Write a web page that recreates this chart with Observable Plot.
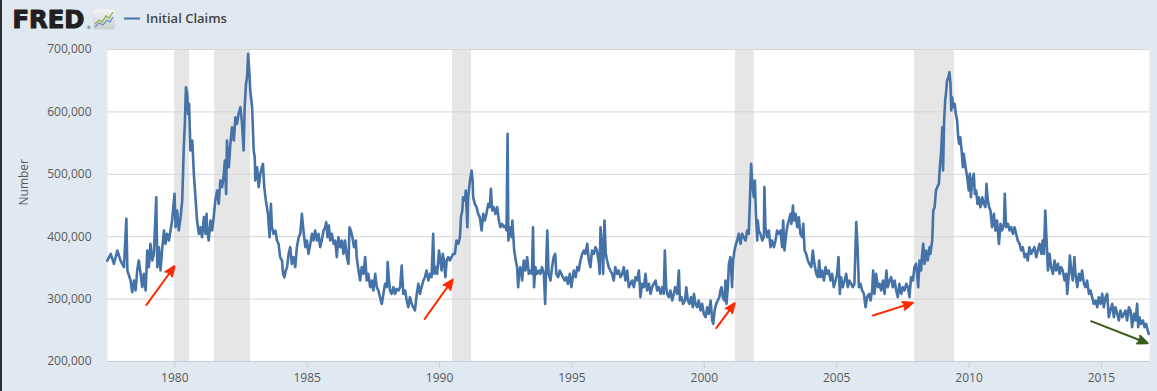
<!DOCTYPE html>
<html>
<head>
<meta charset="utf-8">
<script src="https://cdn.jsdelivr.net/npm/d3@7"></script>
<script src="https://cdn.jsdelivr.net/npm/@observablehq/plot@0.6"></script>
<style>
  html, body { margin: 0; padding: 0; background: #e1e9f0; }
  #wrap { position: relative; width: 1157px; height: 391px; background: #e1e9f0; overflow: hidden; }
  #chart { position: absolute; left: 0; top: 0; }
  #header { position: absolute; left: 0; top: 0; }
  #edge { position: absolute; left: 0; top: 0; width: 2px; height: 391px; background: #2e2e2e; }
</style>
</head>
<body>
<div id="wrap">
  <div id="chart"></div>
  <svg id="header" width="320" height="44" xmlns="http://www.w3.org/2000/svg">
    <defs>
      <linearGradient id="ig" x1="0" y1="0" x2="0" y2="1">
        <stop offset="0" stop-color="#f1f3f4"/>
        <stop offset="1" stop-color="#c9cfd3"/>
      </linearGradient>
    </defs>
    <text x="12.5" y="27.5" font-family="DejaVu Sans" font-weight="bold" font-size="24" textLength="72" lengthAdjust="spacingAndGlyphs" fill="#231f20" stroke="#231f20" stroke-width="1.1" stroke-linejoin="round">FRED</text>
    <text x="86.5" y="29" font-family="DejaVu Sans" font-size="4.5" fill="#231f20">®</text>
    <rect x="93" y="9.5" width="22" height="20" rx="2" fill="url(#ig)"/>
    <polyline points="95,24 99,20 102,22 106,16 109,18 113,12" fill="none" stroke="#8fb34a" stroke-width="1.3"/>
    <polyline points="95,27 99,23 103,25 107,20 110,22 113,17" fill="none" stroke="#6f93b8" stroke-width="1.3"/>
    <line x1="124" y1="18.5" x2="140" y2="18.5" stroke="#4572a7" stroke-width="2"/>
    <text x="146" y="23" font-family="Open Sans" font-weight="600" font-size="13" fill="#444">Initial Claims</text>
  </svg>
  <div id="edge"></div>
</div>
<script>
// Weekly initial claims (decimal year, thousands)
const claims = [
[1977.45,361.8],[1977.58,372.5],[1977.70,356.5],[1977.83,377.9],[1977.95,361.8],[1978.08,351.2],[1978.17,428.6],[1978.21,345.8],
[1978.33,329.8],[1978.39,311.1],[1978.46,329.8],[1978.52,313.8],[1978.58,345.8],[1978.64,361.8],[1978.71,340.5],[1978.77,319.1],
[1978.83,340.5],[1978.90,313.8],[1978.96,377.9],[1979.02,351.2],[1979.08,388.5],[1979.15,361.8],[1979.21,372.5],[1979.30,463.3],
[1979.34,351.2],[1979.40,383.2],[1979.46,345.8],[1979.52,377.9],[1979.59,409.9],[1979.65,388.5],[1979.71,404.6],[1979.78,393.9],
[1979.84,409.9],[1979.90,425.9],[1979.99,468.7],[1980.03,415.2],[1980.09,442.0],[1980.15,409.9],[1980.22,431.3],[1980.28,458.0],
[1980.34,543.5],[1980.38,580.8],[1980.42,639.6],[1980.47,628.9],[1980.50,596.9],[1980.54,612.9],[1980.59,538.1],[1980.66,554.1],
[1980.72,500.7],[1980.78,463.3],[1980.84,425.9],[1980.91,404.6],[1980.97,415.2],[1981.03,399.2],[1981.10,431.3],[1981.16,404.6],
[1981.20,436.6],[1981.22,415.2],[1981.28,393.9],[1981.35,425.9],[1981.41,409.9],[1981.47,431.3],[1981.53,458.0],[1981.60,474.0],
[1981.66,452.6],[1981.72,490.0],[1981.79,479.4],[1981.85,500.7],[1981.89,522.1],[1981.94,468.7],[1981.97,554.1],[1982.04,511.4],
[1982.10,548.8],[1982.16,575.5],[1982.23,554.1],[1982.29,591.5],[1982.35,580.8],[1982.41,596.9],[1982.48,607.6],[1982.54,580.8],
[1982.60,538.1],[1982.64,607.6],[1982.69,645.0],[1982.73,655.6],[1982.77,693.0],[1982.82,661.0],[1982.85,634.3],[1982.92,607.6],
[1982.98,538.1],[1983.02,527.4],[1983.04,490.0],[1983.11,511.4],[1983.17,479.4],[1983.23,500.7],[1983.29,511.4],[1983.33,516.7],
[1983.38,479.4],[1983.44,458.0],[1983.52,436.6],[1983.58,399.2],[1983.63,452.6],[1983.67,415.2],[1983.73,404.6],[1983.80,409.9],
[1983.86,393.9],[1983.92,388.5],[1983.98,367.2],[1984.05,361.8],[1984.09,340.5],[1984.14,335.1],[1984.19,345.8],[1984.24,351.2],
[1984.30,372.5],[1984.36,383.2],[1984.42,356.5],[1984.49,367.2],[1984.55,351.2],[1984.61,383.2],[1984.68,399.2],[1984.74,404.6],
[1984.80,436.6],[1984.86,409.9],[1984.93,383.2],[1984.99,393.9],[1985.05,372.5],[1985.12,388.5],[1985.18,404.6],[1985.24,393.9],
[1985.30,409.9],[1985.37,393.9],[1985.43,404.6],[1985.49,383.2],[1985.55,393.9],[1985.62,409.9],[1985.68,415.2],[1985.72,423.3],
[1985.77,399.2],[1985.82,417.9],[1985.87,393.9],[1985.93,404.6],[1986.00,388.5],[1986.06,393.9],[1986.12,367.2],[1986.18,399.2],
[1986.25,383.2],[1986.31,393.9],[1986.37,372.5],[1986.43,393.9],[1986.50,367.2],[1986.56,356.5],[1986.60,415.2],[1986.65,409.9],
[1986.71,399.2],[1986.77,383.2],[1986.84,393.9],[1986.87,367.2],[1986.94,345.8],[1987.00,329.8],[1987.06,351.2],[1987.13,340.5],
[1987.19,367.2],[1987.25,329.8],[1987.31,340.5],[1987.38,319.1],[1987.44,329.8],[1987.50,313.8],[1987.57,340.5],[1987.63,319.1],
[1987.69,313.8],[1987.75,303.1],[1987.82,292.4],[1987.88,308.4],[1987.94,324.4],[1988.01,319.1],[1988.04,359.2],[1988.09,329.8],
[1988.13,313.8],[1988.19,308.4],[1988.26,319.1],[1988.32,308.4],[1988.38,316.4],[1988.45,313.8],
[1988.51,319.1],[1988.57,353.8],[1988.63,308.4],[1988.70,313.8],[1988.76,297.7],[1988.82,287.0],[1988.88,303.1],[1988.95,292.4],
[1989.01,287.0],[1989.07,281.7],[1989.14,308.4],[1989.20,324.4],[1989.26,308.4],[1989.32,319.1],[1989.39,329.8],[1989.45,335.1],
[1989.51,345.8],[1989.58,329.8],[1989.64,340.5],[1989.70,335.1],[1989.76,404.6],[1989.80,340.5],[1989.86,351.2],[1989.91,340.5],
[1989.98,377.9],[1990.01,367.2],[1990.08,345.8],[1990.12,372.5],[1990.17,361.8],[1990.22,335.1],[1990.27,361.8],[1990.33,367.2],
[1990.39,361.8],[1990.45,367.2],[1990.52,372.5],[1990.58,372.5],[1990.64,393.9],[1990.71,388.5],[1990.77,399.2],[1990.81,431.3],
[1990.86,442.0],[1990.89,463.3],[1990.96,458.0],[1990.99,474.0],[1991.05,415.2],[1991.08,463.3],[1991.15,490.0],[1991.21,506.1],
[1991.25,490.0],[1991.27,463.3],[1991.33,452.6],[1991.40,447.3],[1991.46,436.6],[1991.52,431.3],[1991.59,409.9],[1991.65,436.6],
[1991.71,425.9],[1991.77,436.6],[1991.84,452.6],[1991.90,447.3],[1991.94,476.7],[1991.99,442.0],[1992.05,447.3],[1992.11,436.6],
[1992.18,447.3],[1992.24,425.9],[1992.30,415.2],[1992.36,420.6],[1992.43,415.2],[1992.49,417.9],[1992.53,409.9],[1992.57,564.8],
[1992.60,393.9],[1992.65,415.2],[1992.72,399.2],[1992.75,425.9],[1992.82,377.9],[1992.88,361.8],[1992.93,351.2],[1992.97,319.1],
[1993.00,340.5],[1993.05,351.2],[1993.12,329.8],[1993.18,361.8],[1993.24,345.8],[1993.31,367.2],[1993.37,340.5],[1993.43,345.8],
[1993.49,340.5],[1993.53,415.2],[1993.57,319.1],[1993.62,351.2],[1993.68,340.5],[1993.75,345.8],[1993.81,340.5],[1993.87,351.2],
[1993.94,340.5],[1993.99,292.4],[1994.04,372.5],[1994.07,409.9],[1994.12,340.5],[1994.19,329.8],[1994.25,351.2],[1994.31,367.2],
[1994.37,372.5],[1994.41,340.5],[1994.48,335.1],[1994.54,345.8],[1994.60,340.5],[1994.66,335.1],[1994.73,329.8],[1994.79,335.1],
[1994.85,324.4],[1994.92,340.5],[1994.98,319.1],[1995.07,345.8],[1995.14,335.1],[1995.20,351.2],[1995.26,345.8],[1995.32,361.8],
[1995.39,372.5],[1995.45,377.9],[1995.51,372.5],[1995.58,388.5],[1995.64,361.8],[1995.70,351.2],[1995.76,377.9],[1995.83,372.5],
[1995.89,383.2],[1995.95,377.9],[1996.02,356.5],[1996.05,340.5],[1996.08,415.2],[1996.14,383.2],[1996.18,340.5],[1996.23,425.9],
[1996.28,372.5],[1996.33,361.8],[1996.39,351.2],[1996.45,345.8],[1996.52,340.5],[1996.58,329.8],[1996.64,351.2],[1996.71,340.5],
[1996.77,345.8],[1996.83,335.1],[1996.90,340.5],[1996.96,351.2],[1997.02,329.8],[1997.09,345.8],[1997.15,319.1],[1997.21,324.4],
[1997.27,329.8],[1997.34,319.1],[1997.40,335.1],[1997.46,329.8],[1997.53,345.8],[1997.59,303.1],[1997.65,324.4],[1997.72,319.1],
[1997.78,340.5],[1997.84,313.8],[1997.91,324.4],[1997.97,308.4],[1998.03,319.1],[1998.09,324.4],[1998.16,329.8],[1998.22,313.8],
[1998.28,319.1],[1998.35,308.4],[1998.41,319.1],[1998.47,308.4],[1998.51,377.9],[1998.56,319.1],[1998.60,308.4],[1998.66,303.1],
[1998.72,313.8],[1998.79,297.7],[1998.85,308.4],[1998.90,319.1],[1998.98,308.4],[1999.04,345.8],[1999.08,297.7],[1999.14,303.1],
[1999.20,292.4],[1999.27,297.7],[1999.32,319.1],[1999.38,297.7],[1999.44,292.4],[1999.50,303.1],[1999.57,287.0],[1999.61,308.4],
[1999.67,292.4],[1999.73,287.0],[1999.79,297.7],[1999.86,281.7],[1999.92,292.4],[1999.98,276.4],[2000.05,271.0],[2000.11,287.0],
[2000.17,276.4],[2000.24,297.7],[2000.30,265.7],[2000.34,260.3],[2000.39,281.7],[2000.45,292.4],[2000.51,297.7],[2000.57,303.1],
[2000.61,313.8],[2000.65,319.1],[2000.70,303.1],[2000.76,297.7],[2000.80,329.8],[2000.84,292.4],[2000.89,319.1],[2000.93,356.5],
[2000.99,367.2],[2001.05,319.1],[2001.09,361.8],[2001.14,377.9],[2001.20,388.5],[2001.24,393.9],[2001.30,404.6],[2001.37,388.5],
[2001.43,404.6],[2001.49,399.2],[2001.56,393.9],[2001.62,409.9],[2001.68,404.6],
[2001.77,516.7],[2001.81,484.7],[2001.87,463.3],[2001.91,490.0],[2001.96,425.9],[2002.00,393.9],[2002.02,425.9],[2002.06,409.9],
[2002.12,404.6],[2002.19,393.9],[2002.25,399.2],[2002.27,479.4],[2002.31,415.2],[2002.38,399.2],[2002.44,409.9],[2002.50,383.2],
[2002.56,393.9],[2002.63,383.2],[2002.69,393.9],[2002.75,409.9],[2002.82,404.6],[2002.88,409.9],[2002.94,383.2],[2002.98,425.9],
[2003.03,377.9],[2003.08,399.2],[2003.13,415.2],[2003.19,425.9],[2003.26,436.6],[2003.29,420.6],[2003.35,450.0],[2003.38,425.9],
[2003.45,436.6],[2003.51,415.2],[2003.57,431.3],[2003.63,404.6],[2003.70,399.2],[2003.74,420.6],[2003.79,377.9],[2003.85,372.5],
[2003.91,361.8],[2003.97,356.5],[2004.04,351.2],[2004.10,377.9],[2004.16,356.5],[2004.23,340.5],[2004.29,335.1],[2004.34,361.8],
[2004.39,335.1],[2004.45,345.8],[2004.52,329.8],[2004.58,351.2],[2004.64,340.5],[2004.70,345.8],[2004.77,329.8],[2004.83,340.5],
[2004.89,319.1],[2004.96,329.8],[2005.02,340.5],[2005.07,367.2],[2005.12,308.4],[2005.17,335.1],[2005.23,319.1],[2005.30,329.8],
[2005.36,340.5],[2005.42,319.1],[2005.48,329.8],[2005.55,324.4],[2005.61,319.1],[2005.67,324.4],[2005.74,423.3],[2005.79,383.2],
[2005.84,319.1],[2005.90,324.4],[2005.96,313.8],[2006.03,308.4],[2006.09,287.0],[2006.15,303.1],[2006.22,308.4],[2006.28,297.7],
[2006.34,313.8],[2006.38,345.8],[2006.43,308.4],[2006.49,340.5],[2006.56,319.1],[2006.62,324.4],[2006.68,313.8],[2006.75,329.8],
[2006.81,308.4],[2006.88,345.8],[2006.93,319.1],[2007.00,329.8],[2007.06,335.1],[2007.12,319.1],[2007.19,329.8],[2007.25,313.8],
[2007.31,303.1],[2007.37,324.4],[2007.44,308.4],[2007.50,319.1],[2007.56,313.8],[2007.63,324.4],[2007.69,319.1],[2007.75,303.1],
[2007.81,335.1],[2007.88,329.8],[2007.94,351.2],[2008.00,356.5],[2008.04,340.5],[2008.08,319.1],[2008.13,361.8],[2008.19,345.8],
[2008.23,372.5],[2008.27,388.5],[2008.32,356.5],[2008.38,377.9],[2008.44,361.8],[2008.51,383.2],[2008.54,372.5],[2008.61,393.9],
[2008.65,442.0],[2008.70,447.3],[2008.75,474.0],[2008.80,479.4],[2008.86,484.7],[2008.90,511.4],[2008.95,538.1],[2008.99,575.5],
[2009.02,506.1],[2009.06,586.2],[2009.10,618.3],[2009.14,634.3],[2009.17,650.3],[2009.22,655.6],[2009.26,663.7],[2009.30,645.0],
[2009.33,602.2],[2009.36,623.6],[2009.41,607.6],[2009.46,612.9],[2009.50,596.9],[2009.55,586.2],[2009.59,559.5],[2009.63,548.8],
[2009.67,559.5],[2009.72,538.1],[2009.77,511.4],[2009.80,532.8],[2009.87,511.4],[2009.93,495.4],[2009.99,474.0],[2010.03,500.7],
[2010.07,463.3],[2010.12,490.0],[2010.18,500.7],[2010.22,468.7],[2010.27,474.0],[2010.32,452.6],[2010.37,463.3],[2010.43,447.3],
[2010.50,463.3],[2010.56,452.6],[2010.62,447.3],[2010.66,484.7],[2010.71,458.0],[2010.76,447.3],[2010.81,442.0],[2010.87,415.2],
[2010.94,436.6],[2011.00,409.9],[2011.06,425.9],[2011.13,388.5],[2011.19,420.6],[2011.25,409.9],[2011.32,420.6],[2011.35,468.7],
[2011.40,415.2],[2011.47,420.6],[2011.53,409.9],[2011.59,415.2],[2011.66,404.6],[2011.72,415.2],[2011.78,404.6],[2011.84,393.9],
[2011.91,388.5],[2011.97,377.9],[2012.03,383.2],[2012.10,367.2],[2012.16,372.5],[2012.22,361.8],[2012.28,383.2],[2012.35,372.5],
[2012.41,377.9],[2012.47,383.2],[2012.54,367.2],[2012.60,377.9],[2012.66,388.5],[2012.73,372.5],[2012.78,393.9],[2012.83,372.5],
[2012.88,442.0],[2012.93,393.9],[2012.98,345.8],[2013.04,372.5],[2013.10,351.2],[2013.17,340.5],[2013.23,361.8],[2013.29,345.8],
[2013.36,356.5],[2013.42,340.5],[2013.48,351.2],[2013.54,345.8],[2013.61,329.8],[2013.67,340.5],[2013.71,308.4],[2013.77,340.5],
[2013.81,369.8],[2013.86,345.8],[2013.92,329.8],[2013.98,367.2],[2014.02,340.5],[2014.09,319.1],[2014.15,340.5],[2014.21,329.8],
[2014.27,345.8],[2014.34,324.4],[2014.40,319.1],[2014.46,329.8],[2014.53,308.4],[2014.59,313.8],[2014.65,303.1],[2014.71,292.4],
[2014.78,297.7],[2014.84,287.0],[2014.90,303.1],[2014.97,292.4],[2015.03,308.4],[2015.09,287.0],[2015.16,303.1],[2015.22,308.4],
[2015.28,271.0],[2015.34,281.7],[2015.41,292.4],[2015.47,271.0],[2015.53,287.0],[2015.60,276.4],[2015.66,265.7],[2015.72,281.7],
[2015.79,271.0],[2015.85,276.4],[2015.91,281.7],[2015.97,265.7],[2016.04,287.0],[2016.10,281.7],[2016.16,255.0],[2016.23,276.4],
[2016.29,265.7],[2016.35,292.4],[2016.39,255.0],[2016.44,271.0],[2016.50,260.3],[2016.57,265.7],[2016.63,255.0],[2016.69,260.3],
[2016.75,249.7],[2016.79,244.3]
];

// Recession shading (start, end in decimal years)
const recessions = [[1979.99, 1980.56], [1981.50, 1982.86], [1990.49, 1991.21], [2001.18, 2001.89], [2007.94, 2009.45]];

// Annotation arrows: [x1, y1 (thousands), x2, y2 (thousands)]
const redArrows = [[1978.93, 290.8, 1979.99, 352.7], [1989.44, 268.3, 1990.50, 331.4], [2000.45, 253.4, 2001.15, 293.4], [2006.37, 273.7, 2007.88, 294.0]];
const greenArrows = [[2014.61, 264.6, 2016.75, 229.3]];

const xTicks = [1980, 1985, 1990, 1995, 2000, 2005, 2010, 2015];
const yTicks = [200000, 300000, 400000, 500000, 600000, 700000];
const xDomain = [1977.458, 2016.817];
const yDomain = [200000, 700000];

const fmt = d3.format(",");

const chart = Plot.plot({
  width: 1157,
  height: 391,
  marginLeft: 107,
  marginRight: 8,
  marginTop: 49,
  marginBottom: 30,
  style: {background: "transparent", fontFamily: "'Open Sans', sans-serif", fontSize: "12px"},
  x: {type: "linear", domain: xDomain, label: null},
  y: {type: "linear", domain: yDomain, label: null},
  marks: [
    Plot.frame({fill: "white", stroke: "none"}),
    Plot.rect(recessions, {x1: d => d[0], x2: d => d[1], y1: () => yDomain[0], y2: () => yDomain[1], fill: "#e6e6e6"}),
    Plot.gridY(yTicks.slice(1), {stroke: "#d6d6d6", strokeOpacity: 1}),
    Plot.ruleY([yDomain[0]], {stroke: "#c0d0e0"}),
    Plot.axisY({ticks: yTicks, tickFormat: fmt, tickSize: 0, tickPadding: 16, fill: "#595959", fontSize: 12, label: null}),
    Plot.axisX({ticks: xTicks, tickFormat: d => String(d), tickSize: 7, tickPadding: 5, stroke: "#c0d0e0", fill: "#595959", fontSize: 12, label: null}),
    Plot.text(["Number"], {frameAnchor: "left", text: d => d, rotate: -90, dx: -83, fill: "#595959", fontSize: 12}),
    Plot.line(claims, {x: d => d[0], y: d => d[1] * 1000, stroke: "#4572a7", strokeWidth: 2.6, strokeLinejoin: "round"}),
    Plot.arrow(redArrows, {x1: d => d[0], y1: d => d[1] * 1000, x2: d => d[2], y2: d => d[3] * 1000, stroke: "#ff2a00", fill: "#ff2a00", strokeWidth: 2, headAngle: 45, headLength: 8}),
    Plot.arrow(greenArrows, {x1: d => d[0], y1: d => d[1] * 1000, x2: d => d[2], y2: d => d[3] * 1000, stroke: "#3b5b1c", fill: "#3b5b1c", strokeWidth: 2, headAngle: 45, headLength: 8})
  ]
});
document.getElementById("chart").appendChild(chart);
</script>
</body>
</html>
